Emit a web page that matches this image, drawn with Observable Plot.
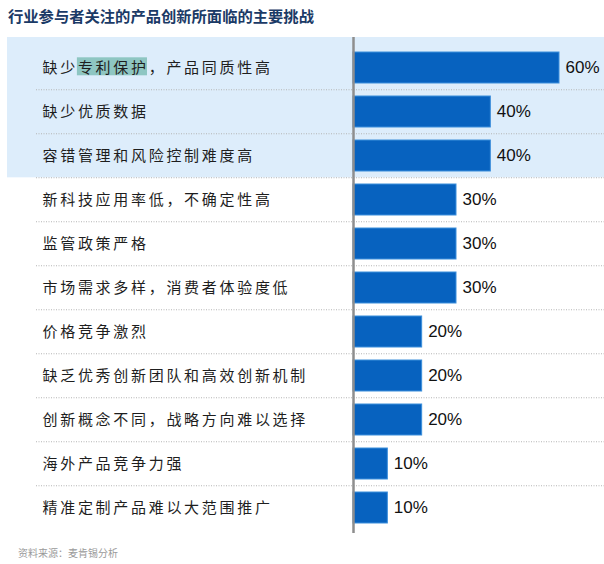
<!DOCTYPE html>
<html>
<head>
<meta charset="utf-8">
<script src="https://cdn.jsdelivr.net/npm/d3@7"></script>
<script src="https://cdn.jsdelivr.net/npm/@observablehq/plot@0.6"></script>
<style>
  html, body { margin: 0; padding: 0; background: #ffffff; width: 604px; height: 564px; overflow: hidden; }
  #title { height: 30px; line-height: 30px; padding-left: 8px; font-family: "Noto Sans CJK SC", sans-serif; font-weight: 700; font-size: 15.3px; color: #1b3a66; }
  #chart { height: 510px; }
  #chart svg { display: block; }
  #caption { height: 24px; line-height: 26px; padding-left: 18px; font-family: "Noto Sans CJK SC", sans-serif; font-size: 10px; color: #9a9a9a; }
</style>
</head>
<body>
<div id="title">行业参与者关注的产品创新所面临的主要挑战</div>
<div id="chart"></div>
<div id="caption">资料来源：麦肯锡分析</div>
<script>
const categories = [
  "缺少专利保护，产品同质性高",
  "缺少优质数据",
  "容错管理和风险控制难度高",
  "新科技应用率低，不确定性高",
  "监管政策严格",
  "市场需求多样，消费者体验度低",
  "价格竞争激烈",
  "缺乏优秀创新团队和高效创新机制",
  "创新概念不同，战略方向难以选择",
  "海外产品竞争力强",
  "精准定制产品难以大范围推广"
];
const values = [60, 40, 40, 30, 30, 30, 20, 20, 20, 10, 10];
const highlightedRows = 3;
const highlightedPhrase = "专利保护";

const data = categories.map((c, i) => ({category: c, value: values[i]}));

const W = 604, H = 510;
const yRange = [12.5, 502];
const step = (yRange[1] - yRange[0]) / categories.length;
const labelSpacing = 2.7;

const highlightBox = (index, scales, values, dimensions) => {
  const y = scales.y;
  const top = y(categories[0]) - 15;
  const bottom = y(categories[highlightedRows]) - 0.15 * step;
  const r = document.createElementNS("http://www.w3.org/2000/svg", "rect");
  r.setAttribute("x", 7);
  r.setAttribute("y", top);
  r.setAttribute("width", dimensions.width - 7);
  r.setAttribute("height", bottom - top);
  r.setAttribute("fill", "#ddedfb");
  return r;
};

const chart = Plot.plot({
  width: W,
  height: H,
  marginLeft: 36,
  marginRight: 0,
  marginTop: 7,
  marginBottom: 7,
  style: {background: "transparent", fontFamily: "\"Noto Sans CJK SC\", sans-serif", overflow: "visible"},
  x: {domain: [0, 60], range: [353, 559], axis: null},
  y: {domain: categories, range: yRange, paddingInner: 0.3, paddingOuter: 0.15, axis: null},
  marks: [
    highlightBox,
    Plot.ruleY(categories.slice(1), {y: d => d, dy: -step / 2, stroke: "#b5b5b5", strokeWidth: 1, strokeDasharray: "1,1.5"}),
    Plot.barX(data, {y: "category", x: "value", fill: "#0762bf", stroke: "#3d8fdc", strokeWidth: 1}),
    Plot.ruleX([0], {stroke: "#8e8e8e", strokeWidth: 2.5}),
    Plot.text(data, {y: "category", text: "category", frameAnchor: "left", dx: 6, textAnchor: "start", fontSize: 15, fill: "#1e1e1e"}),
    Plot.text(data, {y: "category", x: "value", text: d => d.value + "%", textAnchor: "start", dx: 6, fontSize: 17, fill: "#111", fontFamily: "\"Liberation Sans\", Arial, sans-serif"})
  ]
});
document.getElementById("chart").appendChild(chart);

const labels = Array.from(chart.querySelectorAll("text")).filter(t => categories.includes(t.textContent));
labels.forEach(t => t.style.letterSpacing = labelSpacing + "px");

// highlight phrase within first label
const label = labels.find(t => t.textContent === categories[0]);
if (label) {
  const s = categories[0].indexOf(highlightedPhrase);
  const e = s + highlightedPhrase.length;
  const x0 = label.getStartPositionOfChar(s).x - 1;
  const x1 = label.getStartPositionOfChar(e).x - labelSpacing + 1;
  const bb = label.getBBox();
  const r = document.createElementNS("http://www.w3.org/2000/svg", "rect");
  r.setAttribute("x", x0);
  r.setAttribute("y", bb.y + 1.5);
  r.setAttribute("width", x1 - x0);
  r.setAttribute("height", bb.height - 3);
  r.setAttribute("fill", "#8ec6c2");
  if (label.getAttribute("transform")) r.setAttribute("transform", label.getAttribute("transform"));
  label.parentNode.insertBefore(r, label);
}
</script>
</body>
</html>
